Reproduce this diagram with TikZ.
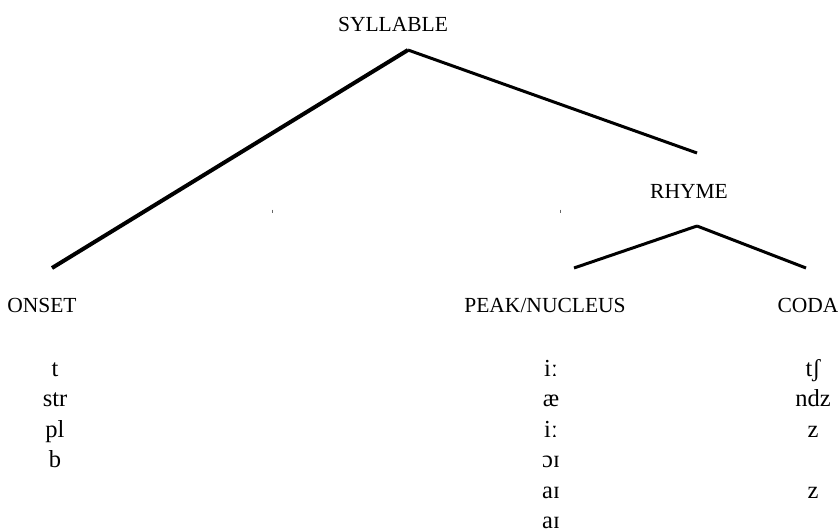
\documentclass[tikz,border=0pt]{standalone}
\usepackage{fontspec}
\setmainfont{Liberation Serif}
\usetikzlibrary{positioning}
\tikzstyle{cat}=[anchor=base,inner sep=0pt,font=\fontsize{21.5}{26}\selectfont]
\tikzstyle{seg}=[anchor=base,inner sep=0pt,text depth=0pt,font=\fontsize{24.5}{29}\selectfont]
\tikzstyle{stem}=[line width=3pt]
\tikzstyle{thickstem}=[line width=4pt]

\begin{document}
\begin{tikzpicture}[x=1pt,y=-1pt]
\useasboundingbox (0,0) rectangle (838,532);
% constituents
\node [cat] (syllable) at (393,32) {SYLLABLE};
\node [cat] (rhyme) at (689,198) {RHYME};
\node [cat] (onset) at (42,312) {ONSET};
\node [cat] (peak) at (545,312) {PEAK/NUCLEUS};
\node [cat] (coda) at (808,312) {CODA};
% branch ends
\coordinate (S) at ([xshift=15pt,yshift=-18pt]syllable.base);
\coordinate (Rt) at ([xshift=8pt,yshift=45pt]rhyme.base);
\coordinate (Rb) at ([xshift=8pt,yshift=-28pt]rhyme.base);
\coordinate (O) at ([xshift=10pt,yshift=44pt]onset.base);
\coordinate (P) at ([xshift=29pt,yshift=44pt]peak.base);
\coordinate (C) at ([xshift=-2pt,yshift=44pt]coda.base);
\draw[thickstem] (S) -- (O);
\draw[stem] (S) -- (Rt);
\draw[stem] (Rb) -- (P);
\draw[stem] (Rb) -- (C);
% examples
\foreach \s [count=\i] in {t,str,pl,b}
  \node [seg] (on\i) at (55,{376+30.5*(\i-1)}) {\s};
\foreach \s [count=\i] in {iː,æ,iː,ɔɪ,aɪ,aɪ}
  \node [seg] (pk\i) at (551,{376+30.5*(\i-1)}) {\s};
\foreach \s/\i in {tʃ/1,ndz/2,z/3,z/5}
  \node [seg] (cd\i) at (813,{376+30.5*(\i-1)}) {\s};
% stray ticks
\draw[black!60,line width=1pt] (272,209.5) -- (272,212.5);
\draw[black!60,line width=1pt] (560,209.5) -- (560,212.5);
\end{tikzpicture}
\end{document}
